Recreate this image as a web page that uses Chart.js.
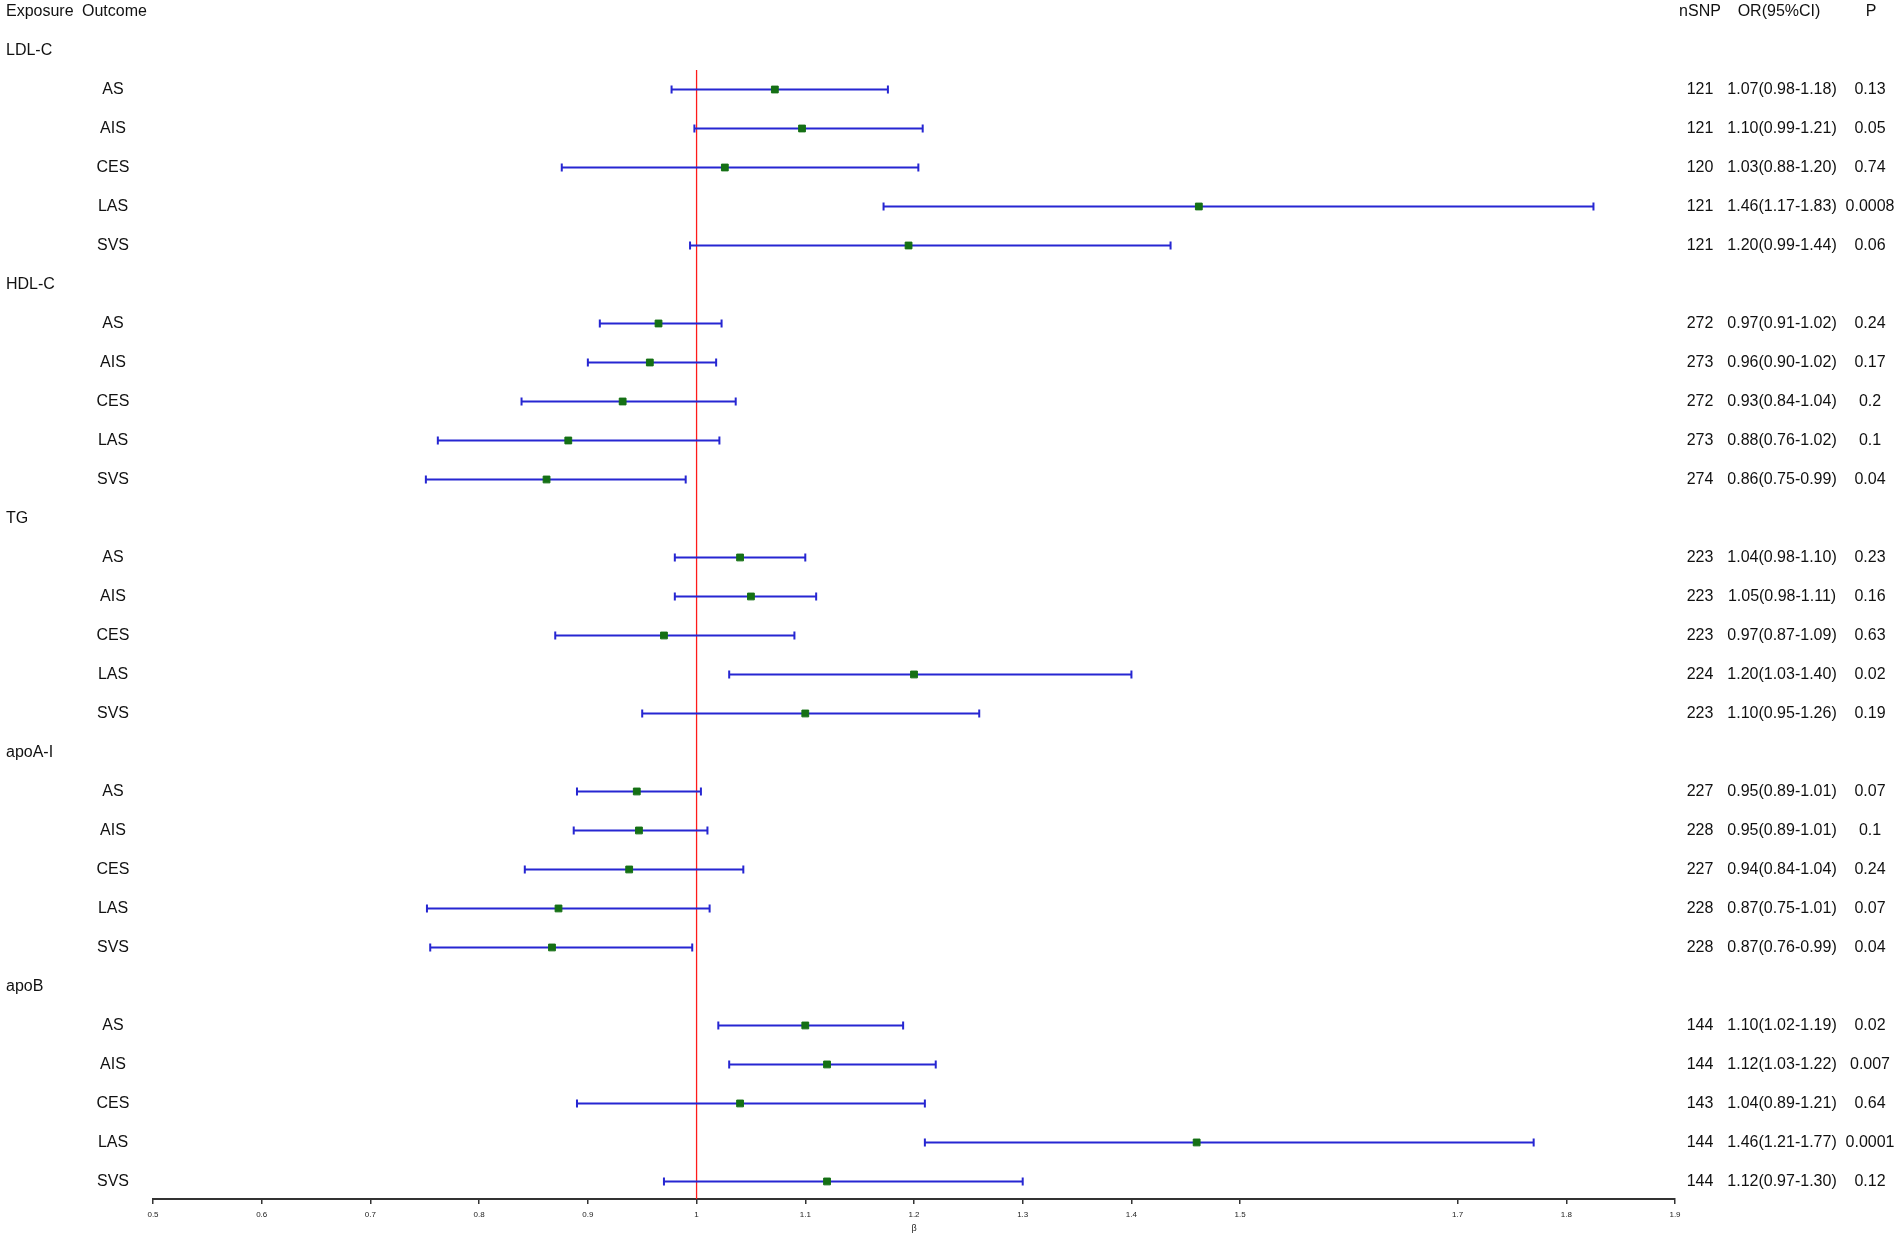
<!DOCTYPE html>
<html>
<head>
<meta charset="utf-8">
<script src="https://cdn.jsdelivr.net/npm/chart.js@4.4.1/dist/chart.umd.min.js"></script>
<style>
  html, body { margin: 0; padding: 0; background: #fff; }
  #wrap { width: 1902px; height: 1236px; position: relative; }
</style>
</head>
<body>
<div id="wrap"><canvas id="forest"></canvas></div>
<script>
// exposures (groups) and outcomes repeated inside each group
const exposures = ['LDL-C', 'HDL-C', 'TG', 'apoA-I', 'apoB'];
const outcomes = ['AS', 'AIS', 'CES', 'LAS', 'SVS'];

// one entry per exposure/outcome row, in drawing order
const nSnp = [
  121, 121, 120, 121, 121,
  272, 273, 272, 273, 274,
  223, 223, 223, 224, 223,
  227, 228, 227, 228, 228,
  144, 144, 143, 144, 144
];
const orEst = [
  1.072, 1.097, 1.026, 1.462, 1.195,
  0.965, 0.957, 0.932, 0.882, 0.862,
  1.04, 1.05, 0.97, 1.20, 1.10,
  0.945, 0.947, 0.938, 0.873, 0.867,
  1.10, 1.12, 1.04, 1.46, 1.12
];
const ciLow = [
  0.977, 0.998, 0.876, 1.172, 0.994,
  0.911, 0.900, 0.839, 0.762, 0.751,
  0.98, 0.98, 0.87, 1.03, 0.95,
  0.890, 0.887, 0.842, 0.752, 0.755,
  1.02, 1.03, 0.89, 1.21, 0.97
];
const ciHigh = [
  1.176, 1.208, 1.204, 1.825, 1.436,
  1.023, 1.018, 1.036, 1.021, 0.990,
  1.10, 1.11, 1.09, 1.40, 1.26,
  1.004, 1.010, 1.043, 1.012, 0.996,
  1.19, 1.22, 1.21, 1.77, 1.30
];
const orText = [
  '1.07(0.98-1.18)', '1.10(0.99-1.21)', '1.03(0.88-1.20)', '1.46(1.17-1.83)', '1.20(0.99-1.44)',
  '0.97(0.91-1.02)', '0.96(0.90-1.02)', '0.93(0.84-1.04)', '0.88(0.76-1.02)', '0.86(0.75-0.99)',
  '1.04(0.98-1.10)', '1.05(0.98-1.11)', '0.97(0.87-1.09)', '1.20(1.03-1.40)', '1.10(0.95-1.26)',
  '0.95(0.89-1.01)', '0.95(0.89-1.01)', '0.94(0.84-1.04)', '0.87(0.75-1.01)', '0.87(0.76-0.99)',
  '1.10(1.02-1.19)', '1.12(1.03-1.22)', '1.04(0.89-1.21)', '1.46(1.21-1.77)', '1.12(0.97-1.30)'
];
const pText = [
  '0.13', '0.05', '0.74', '0.0008', '0.06',
  '0.24', '0.17', '0.2', '0.1', '0.04',
  '0.23', '0.16', '0.63', '0.02', '0.19',
  '0.07', '0.1', '0.24', '0.07', '0.04',
  '0.02', '0.007', '0.64', '0.0001', '0.12'
];
const xTicks = [0.5, 0.6, 0.7, 0.8, 0.9, 1, 1.1, 1.2, 1.3, 1.4, 1.5, 1.7, 1.8, 1.9];

// row layout: 0 = header, then a label row per exposure followed by its outcomes
const rows = [];
let r = 0;
exposures.forEach((exp, g) => {
  r++;
  rows.push({ kind: 'group', row: r, label: exp });
  outcomes.forEach((out, o) => {
    r++;
    rows.push({ kind: 'item', row: r, label: out, k: g * outcomes.length + o });
  });
});
const yMax = r + 0.45;

const ciPoints = [];
const estPoints = [];
rows.filter(d => d.kind === 'item').forEach(d => {
  ciPoints.push({ x: ciLow[d.k], y: d.row }, { x: ciHigh[d.k], y: d.row }, { x: null, y: null });
  estPoints.push({ x: orEst[d.k], y: d.row });
});

const FONT = '"Liberation Sans", Arial, sans-serif';

const tablePlugin = {
  id: 'tableText',
  afterDraw(chart) {
    const ctx = chart.ctx;
    const ys = chart.scales.y;
    ctx.save();
    ctx.font = '16px ' + FONT;
    ctx.fillStyle = '#111';
    ctx.textBaseline = 'middle';

    const y0 = ys.getPixelForValue(0);
    ctx.textAlign = 'left';
    ctx.fillText('Exposure', 6, y0);
    ctx.fillText('Outcome', 82, y0);
    ctx.textAlign = 'center';
    ctx.fillText('nSNP', 1700, y0);
    ctx.fillText('OR(95%CI)', 1779, y0);
    ctx.fillText('P', 1871, y0);

    rows.forEach(d => {
      const yy = ys.getPixelForValue(d.row);
      if (d.kind === 'group') {
        ctx.textAlign = 'left';
        ctx.fillText(d.label, 6, yy);
      } else {
        ctx.textAlign = 'center';
        ctx.fillText(d.label, 113, yy);
        ctx.fillText(String(nSnp[d.k]), 1700, yy);
        ctx.fillText(orText[d.k], 1782, yy);
        ctx.fillText(pText[d.k], 1870, yy);
      }
    });
    ctx.restore();
  }
};

new Chart(document.getElementById('forest'), {
  type: 'scatter',
  data: {
    datasets: [
      {
        // reference line at 1
        data: [{ x: 1, y: 1.5 }, { x: 1, y: yMax }],
        showLine: true,
        borderColor: '#ff1a1a',
        borderWidth: 1.3,
        pointRadius: 0,
        order: 3
      },
      {
        // confidence intervals with end caps
        data: ciPoints,
        showLine: true,
        spanGaps: false,
        borderColor: '#2626d2',
        borderWidth: 2,
        pointStyle: 'line',
        pointRotation: 90,
        pointRadius: 4,
        pointBorderWidth: 2,
        pointBorderColor: '#2626d2',
        order: 2
      },
      {
        data: estPoints,
        pointStyle: 'rect',
        pointRadius: 4.8,
        backgroundColor: '#157015',
        borderColor: '#157015',
        borderWidth: 1,
        order: 1
      }
    ]
  },
  options: {
    responsive: true,
    maintainAspectRatio: false,
    animation: false,
    devicePixelRatio: 1,
    events: [],
    layout: { padding: { left: 153, right: 227, top: 11.5, bottom: 0 } },
    plugins: {
      legend: { display: false },
      tooltip: { enabled: false }
    },
    scales: {
      x: {
        type: 'linear',
        position: 'bottom',
        min: 0.5,
        max: 1.9,
        afterBuildTicks: scale => { scale.ticks = xTicks.map(v => ({ value: v })); },
        afterFit: scale => { scale.height = 37; },
        ticks: {
          autoSkip: false,
          maxRotation: 0,
          padding: 6,
          color: '#222',
          font: { family: FONT, size: 8 },
          callback: v => String(Math.round(v * 10) / 10)
        },
        grid: {
          drawOnChartArea: false,
          drawTicks: true,
          tickLength: 5,
          color: '#333',
          lineWidth: 1.5
        },
        border: { display: true, color: '#333', width: 2 },
        title: {
          display: true,
          text: 'β',
          color: '#222',
          font: { family: FONT, size: 9 },
          padding: { top: 0, bottom: 2 }
        }
      },
      y: {
        type: 'linear',
        display: false,
        reverse: true,
        min: 0,
        max: yMax
      }
    }
  },
  plugins: [tablePlugin]
});
</script>
</body>
</html>
